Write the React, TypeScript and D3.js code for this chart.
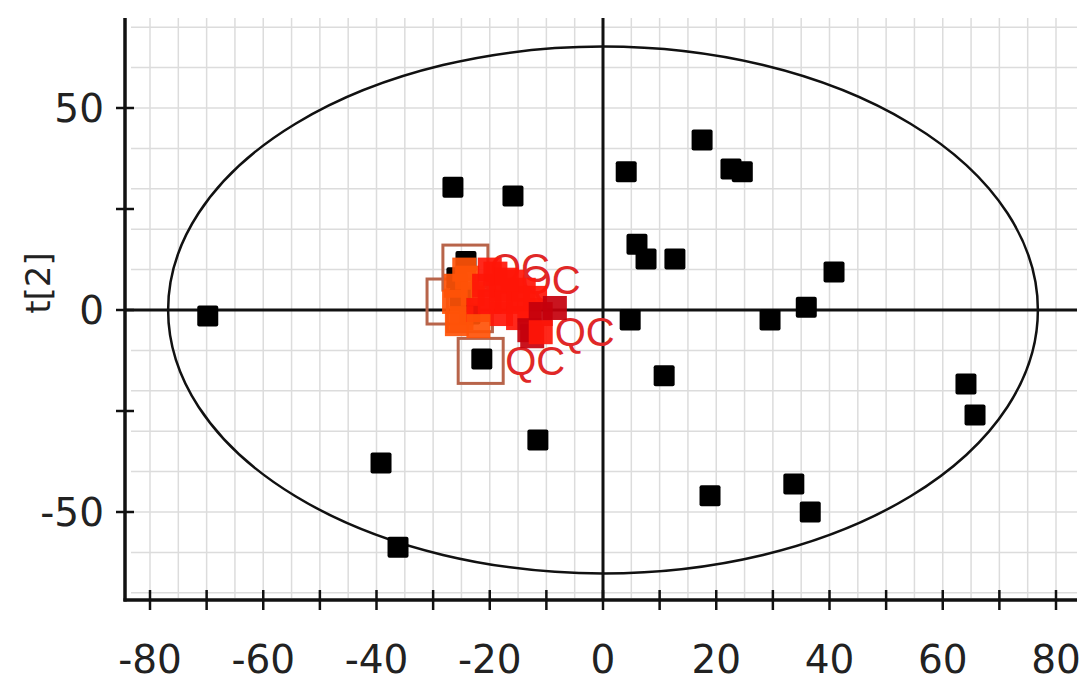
import React from 'react';
import * as d3 from 'd3';

// score plot values
const sampleX = [-69.8, -26.5, -15.9, 4.1, 17.5, 22.6, 24.6, 6.0, 7.6, 12.7, 40.8, 4.8, 35.9, 29.5, 10.8, 64.1, 65.7, -11.5, -39.2, -36.2, 18.9, 33.7, 36.6, -21.4, -24.2, -25.8, -25.2, -23.5];
const sampleY = [-1.5, 30.4, 28.2, 34.2, 42.1, 34.9, 34.2, 16.3, 12.6, 12.6, 9.4, -2.5, 0.7, -2.5, -16.3, -18.3, -26.0, -32.2, -37.9, -58.7, -46.0, -43.1, -50.0, -12.1, 12.0, 8.0, 3.0, -1.0];

const qcX = [-26, -26.3, -25.8, -25, -24, -24.5, -23, -22, -21, -20, -19, -18, -18, -17, -16, -15, -15, -14, -13, -12, -20, -22, -11, -13, -8.5, -12.5, -17, -11];
const qcY = [6, 2, -3.5, -2, 8, 10, 4, 0, 6, 2, 9, -1, 5, 2, 7, -2, 3, 5, 0, 3, 10, -4, -1, -5, 0.5, -6.5, 7.5, -5.5];
const qcGroup = ['o', 'o', 'o', 'o', 'o', 'o', 'o', 'r', 'r', 'r', 'r', 'r', 'r', 'r', 'r', 'r', 'r', 'r', 'r', 'r', 'r', 'o', 'd', 'd', 'd', 'd', 'r', 'r'];
const qcLabel = ['', '', '', '', '', '', '', '', '', '', '', '', '', '', '', '', '', '', '', '', '', '', '', '', '', '', 'QC', 'QC'];

const openX = [-24.3, -27.1, -23.5, -21.6];
const openY = [10.5, 2.1, 0.2, -12.6];
const openLabel = ['QC', '', '', 'QC'];

const xTicks = [-80, -60, -40, -20, 0, 20, 40, 60, 80];
const yTicks = [-50, 0, 50];
const ellipseR = [76.8, 65.2];

const W = 1084;
const H = 684;
const axisLeft = 125;
const axisBottom = 600;
const top = 18;
const right = 1077;

export default function App() {
  const x = d3.scaleLinear().domain([-80, 80]).range([150, 1056]);
  const y = d3.scaleLinear().domain([-50, 50]).range([512, 108]);

  const gridX = d3.range(-80, 81, 5);
  const gridY = d3.range(-70, 71, 10);
  const minorX = d3.range(-80, 81, 10);
  const minorY = d3.range(-50, 51, 25);

  const qcColor = d3.scaleOrdinal<string, string>()
    .domain(['o', 'r', 'd'])
    .range(['#ff5208', '#ff1608', '#c4000c']);

  const sq = 21;
  const qs = 24;
  const os = 45;
  const font = 'DejaVu Sans, Verdana, sans-serif';

  return (
    <svg width={W} height={H} style={{ position: 'absolute', left: 0, top: 0, background: '#fff' }}>
      {/* grid */}
      <g stroke="#dcdcdc" strokeWidth={1.5}>
        {gridX.map(v => (
          <line key={'gx' + v} x1={x(v)} x2={x(v)} y1={top} y2={axisBottom - 2} />
        ))}
        {gridY.map(v => (
          <line key={'gy' + v} x1={axisLeft + 6} x2={right} y1={y(v)} y2={y(v)} />
        ))}
      </g>

      {/* confidence ellipse */}
      <ellipse cx={x(0)} cy={y(0)} rx={x(ellipseR[0]) - x(0)} ry={y(0) - y(ellipseR[1])}
        fill="none" stroke="#111" strokeWidth={2.5} />

      {/* zero lines */}
      <line x1={x(0)} x2={x(0)} y1={top} y2={axisBottom} stroke="#111" strokeWidth={3} />
      <line x1={axisLeft} x2={right} y1={y(0)} y2={y(0)} stroke="#111" strokeWidth={3} />

      {/* QC open markers */}
      <g fill="none" stroke="#b8644a" strokeWidth={3}>
        {openX.map((v, i) => (
          <rect key={'o' + i} x={x(v) - os / 2} y={y(openY[i]) - os / 2} width={os} height={os} />
        ))}
      </g>

      {/* samples */}
      <g fill="#000">
        {sampleX.map((v, i) => (
          <rect key={'s' + i} x={x(v) - sq / 2} y={y(sampleY[i]) - sq / 2} width={sq} height={sq} rx={2} />
        ))}
      </g>

      {/* QC labels */}
      <g fill="#e02828" fontFamily="Liberation Sans, Arial, sans-serif" fontSize={40}>
        {qcX.map((v, i) => qcLabel[i] ? (
          <text key={'ql' + i} x={x(v) + qs / 2 + 2} y={y(qcY[i])} dominantBaseline="central">{qcLabel[i]}</text>
        ) : null)}
        {openX.map((v, i) => openLabel[i] ? (
          <text key={'ol' + i} x={x(v) + os / 2 + 2} y={y(openY[i])} dominantBaseline="central">{openLabel[i]}</text>
        ) : null)}
      </g>

      {/* QC filled */}
      <g>
        {qcX.map((v, i) => (
          <rect key={'q' + i} x={x(v) - qs / 2} y={y(qcY[i]) - qs / 2} width={qs} height={qs}
            fill={qcColor(qcGroup[i])} fillOpacity={0.92} />
        ))}
      </g>

      {/* axes */}
      <g stroke="#111" strokeWidth={3.5}>
        <line x1={axisLeft} x2={axisLeft} y1={top} y2={axisBottom + 1.5} />
        <line x1={axisLeft - 1.5} x2={right} y1={axisBottom} y2={axisBottom} />
      </g>
      <g stroke="#111" strokeWidth={2.5}>
        {minorX.map(v => (
          <line key={'tx' + v} x1={x(v)} x2={x(v)} y1={axisBottom - 10} y2={axisBottom + 10} />
        ))}
        {minorY.map(v => (
          <line key={'ty' + v} x1={axisLeft - 9} x2={axisLeft + 9} y1={y(v)} y2={y(v)} />
        ))}
      </g>

      {/* tick labels */}
      <g fill="#222" fontFamily={font} fontSize={39}>
        {xTicks.map(v => (
          <text key={'lx' + v} x={x(v)} y={673} textAnchor="middle">{v}</text>
        ))}
        {yTicks.map(v => (
          <text key={'ly' + v} x={104} y={y(v)} textAnchor="end" dominantBaseline="central">{v}</text>
        ))}
      </g>

      <text transform={`translate(50, ${283}) rotate(-90)`} textAnchor="middle"
        fontFamily={font} fontSize={34} fill="#222">t[2]</text>
    </svg>
  );
}
